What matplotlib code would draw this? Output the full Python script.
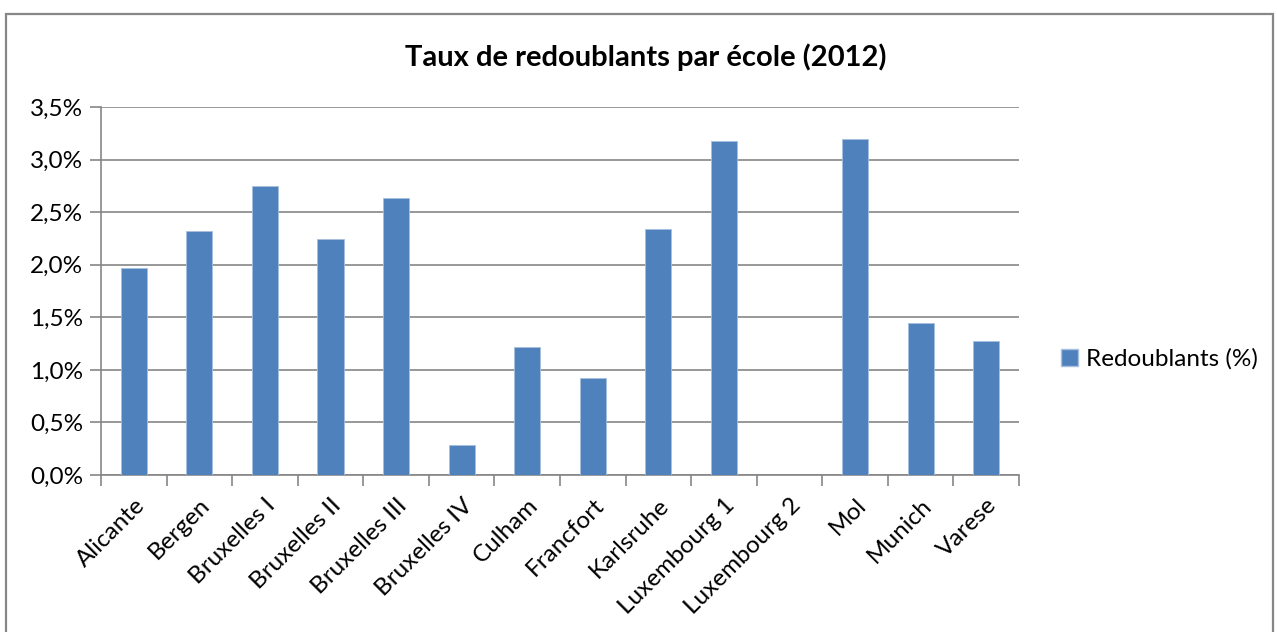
import matplotlib
matplotlib.use("Agg")
import matplotlib.pyplot as plt
from matplotlib.patches import Rectangle, Patch
from matplotlib.ticker import FuncFormatter, MultipleLocator

categories = ["Alicante", "Bergen", "Bruxelles I", "Bruxelles II", "Bruxelles III",
              "Bruxelles IV", "Culham", "Francfort", "Karlsruhe", "Luxembourg 1",
              "Luxembourg 2", "Mol", "Munich", "Varese"]
values = [1.97, 2.32, 2.75, 2.24, 2.63, 0.29, 1.22, 0.92, 2.34, 3.18, 0.0, 3.20, 1.45, 1.27]
series_name = "Redoublants (%)"
title = "Taux de redoublants par école (2012)"

plt.rcParams['font.family'] = ['Lato', 'DejaVu Sans']

W, H = 1277, 632
fig = plt.figure(figsize=(W / 100, H / 100), dpi=100)
fig.patch.set_facecolor("white")

# outer chart frame
fig.add_artist(Rectangle((6 / W, -0.05), (1273 - 6) / W, 1.05 - 14 / H,
                         transform=fig.transFigure, fill=False,
                         edgecolor="#878787", linewidth=1.6))

left, right, top, bottom = 101, 1019, 107, 475
ax = fig.add_axes([left / W, 1 - bottom / H, (right - left) / W, (bottom - top) / H])

x = range(len(categories))
ax.bar(x, values, width=0.4, color="#4F81BD", edgecolor="#A7C0DE", linewidth=0.6, zorder=3)

ax.set_xlim(-0.5, len(categories) - 0.5)
ax.set_ylim(0, 3.5)
ax.yaxis.set_major_locator(MultipleLocator(0.5))
ax.yaxis.set_major_formatter(FuncFormatter(lambda v, p: f"{v:.1f}%".replace(".", ",")))
ax.grid(axis="y", color="#868686", linewidth=1.2, zorder=0)

ax.set_xticks([i - 0.5 for i in range(len(categories) + 1)], minor=False)
ax.set_xticklabels([])
ax.set_xticks(list(x), minor=True)
ax.set_xticklabels(categories, minor=True, rotation=45, ha="right", rotation_mode="anchor",
                   fontsize=17.5)
ax.tick_params(axis="x", which="minor", length=0, pad=14)
ax.tick_params(axis="x", which="major", length=8, width=1.2, color="#868686", direction="out")
ax.tick_params(axis="y", length=8, width=1.2, color="#868686", labelsize=17.5, pad=5)

for s in ["top", "right"]:
    ax.spines[s].set_visible(False)
for s in ["left", "bottom"]:
    ax.spines[s].set_color("#868686")
    ax.spines[s].set_linewidth(1.2)

fig.text(646 / W, 1 - 57 / H, title, ha="center", va="center", fontsize=21, fontweight="bold")

fig.legend(handles=[Patch(facecolor="#4F81BD", edgecolor="#A7C0DE", label=series_name)],
           loc="center left", bbox_to_anchor=(1039 / W, 1 - 359 / H), frameon=False,
           fontsize=17.5, handlelength=0.7, handleheight=0.7, handletextpad=0.35)

fig.savefig("out.png", dpi=100)
